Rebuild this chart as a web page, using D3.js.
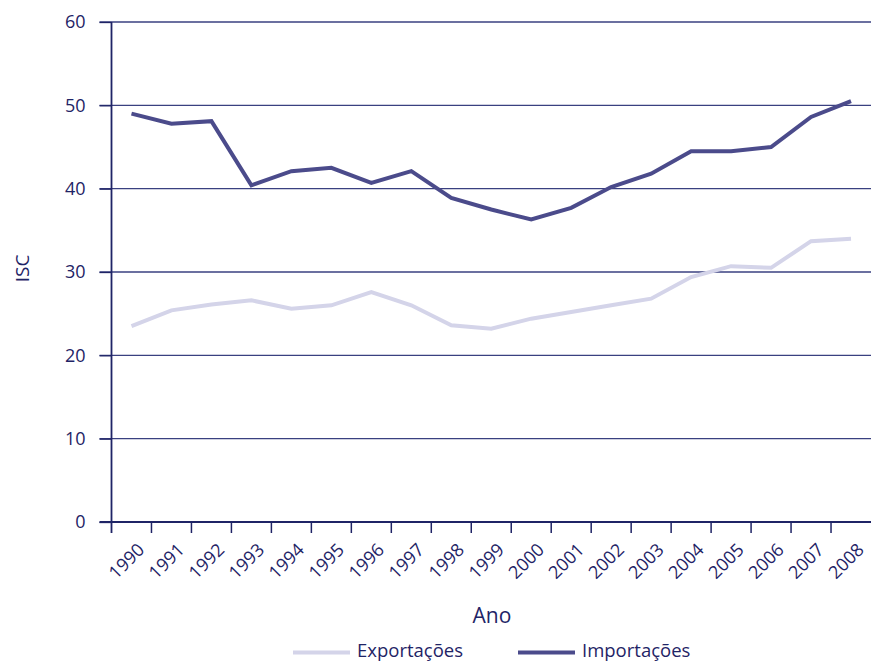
<!DOCTYPE html>
<html>
<head>
<meta charset="utf-8">
<script src="https://cdn.jsdelivr.net/npm/d3@7"></script>
<style>
  html, body { margin: 0; padding: 0; background: #fff; }
  svg { display: block; font-family: "Open Sans", sans-serif; }
</style>
</head>
<body>
<svg id="chart" width="871" height="663"></svg>
<script>
// ISC series, 1990–2008
const years = ["1990","1991","1992","1993","1994","1995","1996","1997","1998","1999",
               "2000","2001","2002","2003","2004","2005","2006","2007","2008"];
const exportacoes = [23.5, 25.4, 26.1, 26.6, 25.6, 26.0, 27.6, 26.0, 23.6, 23.2,
                     24.4, 25.2, 26.0, 26.8, 29.4, 30.7, 30.5, 33.7, 34.0];
const importacoes = [49.0, 47.8, 48.1, 40.4, 42.1, 42.5, 40.7, 42.1, 38.9, 37.5,
                     36.3, 37.7, 40.2, 41.8, 44.5, 44.5, 45.0, 48.6, 50.5];
const yTicks = [0, 10, 20, 30, 40, 50, 60];
const seriesNames = ["Exportações", "Importações"];

const navy = "#1f2466";
const colors = { "Exportações": "#d4d4e9", "Importações": "#4b4b8b" };

const svg = d3.select("#chart");
const plotLeft = 111.5, plotRight = 871, plotTop = 22, plotBottom = 522;

const x = d3.scaleBand().domain(years).range([plotLeft, plotRight]);
const y = d3.scaleLinear().domain([0, 60]).range([plotBottom, plotTop]);

// horizontal gridlines, running through the outward tick
svg.append("g").selectAll("line").data(yTicks.filter(d => d > 0)).join("line")
  .attr("x1", plotLeft - 12).attr("x2", plotRight)
  .attr("y1", d => y(d)).attr("y2", d => y(d))
  .attr("stroke", "#3a4080").attr("stroke-width", 1.3);

// y axis
const yAxis = svg.append("g").attr("transform", `translate(${plotLeft},0)`)
  .call(d3.axisLeft(y).tickValues(yTicks).tickSize(12).tickPadding(14).tickSizeOuter(0));
yAxis.select(".domain").remove();
yAxis.selectAll(".tick line").attr("stroke", navy).attr("stroke-width", 1.3);
yAxis.selectAll(".tick text").attr("fill", navy).style("font-size", "18px")
  .style("font-family", "'Open Sans', sans-serif");
svg.append("line").attr("x1", plotLeft).attr("x2", plotLeft).attr("y1", plotTop).attr("y2", plotBottom + 11)
  .attr("stroke", navy).attr("stroke-width", 1.8);

// x baseline and category boundary ticks
svg.append("line").attr("x1", plotLeft - 12).attr("x2", plotRight).attr("y1", plotBottom).attr("y2", plotBottom)
  .attr("stroke", navy).attr("stroke-width", 2);
svg.append("g").selectAll("line").data(years.slice(1)).join("line")
  .attr("x1", d => x(d)).attr("x2", d => x(d))
  .attr("y1", plotBottom).attr("y2", plotBottom + 11)
  .attr("stroke", navy).attr("stroke-width", 1.5);

// rotated year labels
svg.append("g").selectAll("text").data(years).join("text")
  .attr("transform", d => `translate(${x(d) + x.bandwidth() / 2 + 14},${plotBottom + 29}) rotate(-45)`)
  .attr("text-anchor", "end")
  .attr("fill", navy).style("font-size", "18px")
  .text(d => d);

// lines
const line = d3.line().x((d, i) => x(years[i]) + x.bandwidth() / 2).y(d => y(d));
[["Exportações", exportacoes], ["Importações", importacoes]].forEach(([name, vals]) => {
  svg.append("path").datum(vals)
    .attr("d", line)
    .attr("fill", "none")
    .attr("stroke", colors[name])
    .attr("stroke-width", 4)
    .attr("stroke-linejoin", "miter");
});

// axis titles
svg.append("text").attr("x", 492).attr("y", 623).attr("text-anchor", "middle")
  .attr("fill", navy).style("font-size", "21px").text("Ano");
svg.append("text").attr("transform", "translate(29,268.5) rotate(-90)").attr("text-anchor", "middle")
  .attr("fill", navy).style("font-size", "19px").text("ISC");

// legend
const legendPos = [{ x1: 293, x2: 350, tx: 357 }, { x1: 518, x2: 575, tx: 582 }];
seriesNames.forEach((name, i) => {
  const p = legendPos[i];
  svg.append("line").attr("x1", p.x1).attr("x2", p.x2).attr("y1", 652.5).attr("y2", 652.5)
    .attr("stroke", colors[name]).attr("stroke-width", 4);
  svg.append("text").attr("x", p.tx).attr("y", 657).attr("fill", navy)
    .style("font-size", "18.5px").text(name);
});
</script>
</body>
</html>
